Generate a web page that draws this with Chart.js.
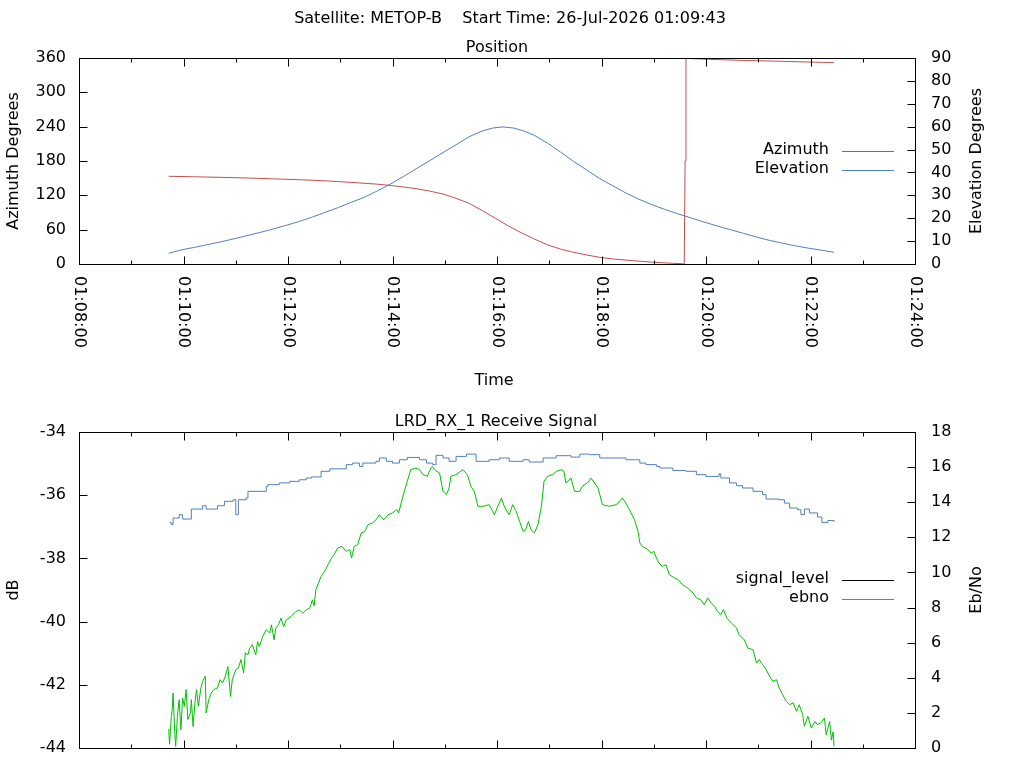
<!DOCTYPE html>
<html>
<head>
<meta charset="utf-8">
<title>METOP-B pass</title>
<script src="https://cdn.jsdelivr.net/npm/chart.js@4.4.1/dist/chart.umd.min.js"></script>
<style>
  html, body { margin: 0; background: #fff; overflow: hidden; }
  canvas { display: block; position: absolute; left: 0; }
  #position { top: 0; }
  #signal { top: 400px; }
</style>
</head>
<body>
<canvas id="position" width="1024" height="400"></canvas>
<canvas id="signal" width="1024" height="420"></canvas>
<script>
const satellite = 'METOP-B';
const startDate = '26-Jul-2026';
const startTime = '01:09:43';
const timeRange = ['01:08:00', '01:24:00'];

// all offsets are seconds after startTime
const azOffsets = [0, 30, 60, 90, 120, 150, 180, 210, 240, 255,
  270, 285, 300, 315, 330, 345, 360, 375, 390, 405,
  420, 435, 450, 465, 480, 495, 510, 525, 540, 555,
  570, 580, 592, 593, 594, 620, 655, 704, 747, 764];
const azimuth = [153.3, 152.4, 151.4, 150.3, 148.8, 147.3, 145.3, 142.6, 139.5, 137.2,
  134.6, 131.5, 127.3, 122.3, 114.8, 106, 93.4, 80, 66.5, 54.5,
  43.5, 33.5, 26, 20.4, 15.8, 11.6, 8.8, 6.8, 5, 3.2,
  2, 1.2, 0.2, 180, 359.3, 357.7, 356, 354.2, 352.5, 351.9];

const elOffsets = [0, 15, 30, 45, 60, 75, 90, 105, 120, 135,
  150, 165, 180, 195, 210, 225, 240, 255, 270, 285,
  300, 315, 330, 345, 360, 372, 384, 396, 408, 420,
  435, 450, 465, 480, 495, 510, 525, 540, 555, 570,
  585, 600, 615, 630, 645, 660, 675, 690, 705, 720,
  735, 750, 764];
const elevation = [4.7, 6.2, 7.3, 8.5, 9.7, 11.0, 12.4, 13.8, 15.3, 16.9,
  18.6, 20.5, 22.6, 24.7, 27.0, 29.2, 32.0, 35.0, 38.3, 41.8,
  45.2, 48.7, 52.1, 55.6, 58.1, 59.4, 59.9, 59.4, 58.1, 56.2,
  52.8, 48.9, 44.8, 41.1, 37.3, 34.2, 31.0, 28.3, 25.9, 23.8,
  21.9, 20.1, 18.3, 16.6, 15.0, 13.4, 11.8, 10.3, 9.1, 7.9,
  6.9, 6.0, 5.1];

const sigOffsets = [0, 1, 3, 4, 5, 7, 8, 10, 12, 14,
  16, 18, 20, 22, 25, 26, 28, 30, 32, 34,
  37, 39, 42, 43, 46, 49, 52, 56, 59, 62,
  65, 68, 71, 73, 77, 80, 83, 86, 88, 91,
  93, 96, 100, 102, 104, 108, 112, 116, 118, 121,
  123, 126, 129, 132, 135, 141, 146, 150, 154, 158,
  162, 165, 167, 169, 172, 175, 179, 183, 187, 190,
  194, 199, 204, 208, 210, 213, 217, 221, 225, 229,
  234, 238, 242, 247, 252, 257, 262, 264, 267, 271,
  274, 278, 284, 288, 292, 297, 301, 303, 305, 311,
  315, 319, 322, 324, 330, 338, 343, 347, 351, 355,
  361, 368, 372, 374, 378, 382, 386, 391, 395, 399,
  403, 407, 410, 413, 416, 420, 424, 428, 431, 435,
  441, 445, 451, 454, 456, 462, 466, 472, 475, 481,
  485, 489, 493, 498, 506, 514, 521, 525, 529, 535,
  539, 541, 544, 550, 554, 557, 560, 563, 567, 571,
  575, 581, 585, 590, 596, 602, 606, 611, 615, 619,
  623, 627, 630, 634, 637, 641, 646, 652, 655, 661,
  665, 671, 675, 678, 682, 686, 690, 694, 698, 701,
  705, 709, 713, 717, 721, 724, 728, 730, 734, 738,
  742, 745, 749, 753, 755, 759, 761, 763, 764];
const signalLevel = [-43.4, -43.88, -43.0, -42.79, -42.26, -43.53, -43.95, -43.0, -42.47, -43.42,
  -42.42, -42.68, -42.15, -43.1, -42.89, -42.47, -43.32, -42.6, -42.15, -42.68,
  -42.1, -41.89, -41.73, -42.89, -42.47, -42.26, -42.15, -42.1, -41.84, -41.94,
  -41.73, -41.42, -42.37, -41.84, -41.52, -41.47, -41.2, -41.63, -40.99, -41.05,
  -40.84, -40.73, -41.05, -40.63, -40.79, -40.47, -40.26, -40.36, -40.1, -40.58,
  -40.21, -40.1, -39.89, -40.16, -39.95, -39.82, -39.68, -39.63, -39.74, -39.63,
  -39.57, -39.31, -39.5, -38.99, -38.78, -38.57, -38.41, -38.2, -37.99, -37.88,
  -37.67, -37.62, -37.78, -37.72, -37.99, -37.62, -37.57, -37.2, -37.15, -36.93,
  -36.88, -36.78, -36.62, -36.78, -36.62, -36.56, -36.46, -36.56, -36.25, -35.83,
  -35.56, -35.19, -35.14, -35.19, -35.35, -35.4, -35.14, -35.09, -35.19, -35.3,
  -35.88, -35.98, -35.77, -35.4, -35.35, -35.19, -35.35, -35.72, -35.88, -36.35,
  -36.35, -36.3, -36.51, -36.62, -36.35, -36.09, -36.4, -36.62, -36.3, -36.51,
  -36.83, -37.15, -37.09, -36.83, -37.09, -37.2, -36.93, -36.35, -35.56, -35.4,
  -35.35, -35.25, -35.19, -35.25, -35.61, -35.46, -35.88, -35.88, -35.72, -35.61,
  -35.46, -35.61, -35.77, -36.3, -36.35, -36.3, -36.09, -36.25, -36.46, -36.78,
  -37.15, -37.51, -37.62, -37.72, -37.83, -37.78, -37.99, -38.15, -38.25, -38.2,
  -38.52, -38.62, -38.67, -38.83, -38.94, -39.09, -39.25, -39.31, -39.47, -39.25,
  -39.41, -39.52, -39.67, -39.78, -39.62, -39.89, -40.04, -40.2, -40.42, -40.57,
  -40.84, -40.89, -41.31, -41.2, -41.36, -41.52, -41.73, -41.89, -41.84, -42.1,
  -42.31, -42.52, -42.63, -42.57, -42.84, -42.63, -42.94, -43.31, -43.0, -43.37,
  -43.16, -43.26, -43.2, -43.05, -43.58, -43.16, -43.75, -43.49, -43.95];

const ebnoOffsets = [1, 3, 5, 12, 16, 26, 39, 43, 56, 64,
  74, 77, 80, 89, 91, 112, 114, 127, 139, 150,
  158, 164, 175, 185, 204, 211, 219, 223, 238, 242,
  250, 257, 265, 274, 288, 296, 303, 307, 315, 322,
  330, 342, 353, 368, 380, 391, 407, 414, 430, 445,
  462, 472, 483, 495, 525, 541, 548, 560, 564, 579,
  594, 606, 617, 632, 634, 644, 652, 659, 671, 682,
  686, 701, 707, 713, 722, 726, 730, 736, 745, 750,
  757, 764];
const ebno = [12.85, 12.72, 13.1, 13.29, 13.04, 13.61, 13.8, 13.61, 13.8, 14.05,
  14.14, 13.29, 14.14, 14.24, 14.62, 14.9, 15.0, 15.1, 15.19, 15.28,
  15.38, 15.44, 15.76, 15.9, 16.14, 16.23, 16.04, 16.23, 16.33, 16.52,
  16.33, 16.23, 16.42, 16.55, 16.42, 16.23, 16.14, 16.67, 16.52, 16.33,
  16.61, 16.74, 16.33, 16.42, 16.52, 16.33, 16.42, 16.29, 16.52, 16.65,
  16.57, 16.74, 16.71, 16.52, 16.42, 16.23, 16.14, 16.04, 15.95, 15.81,
  15.76, 15.57, 15.47, 15.62, 15.38, 15.1, 14.94, 14.81, 14.62, 14.43,
  14.18, 14.14, 13.95, 13.67, 13.57, 13.29, 13.61, 13.39, 13.16, 12.85,
  12.96, 12.87];

const FONT = '16px "DejaVu Sans", sans-serif';
Chart.defaults.font.family = '"DejaVu Sans", sans-serif';
Chart.defaults.font.size = 16;
Chart.defaults.color = '#000';

function toSec(hms) {
    const p = hms.split(':').map(Number);
    return p[0] * 3600 + p[1] * 60 + p[2];
}
function toHms(sec) {
    const pad = n => String(n).padStart(2, '0');
    return pad(Math.floor(sec / 3600)) + ':' + pad(Math.floor(sec / 60) % 60) + ':' + pad(sec % 60);
}
const t0 = toSec(startTime);
function series(offsets, values) {
    return offsets.map((o, i) => ({x: t0 + o, y: values[i]}));
}

// gnuplot look: boxed plot, inward ticks, rotated time labels, key inside
function gnuplotFrame(cfg) {
    return {
        id: 'gnuplotFrame',
        afterDraw(chart) {
            const ctx = chart.ctx;
            const a = chart.chartArea;
            const xs = chart.scales.x, yl = chart.scales.y, yr = chart.scales.y1;
            const L = Math.round(a.left) + 0.5, R = Math.round(a.right) + 0.5;
            const T = Math.round(a.top) + 0.5, B = Math.round(a.bottom) + 0.5;
            ctx.save();
            ctx.strokeStyle = '#000';
            ctx.lineWidth = 1;
            ctx.beginPath();
            for (let v = xs.min; v <= xs.max; v += 60) {
                const px = Math.round(xs.getPixelForValue(v)) + 0.5;
                const len = (v - xs.min) % 120 === 0 ? 8 : 4;
                ctx.moveTo(px, B); ctx.lineTo(px, B - len);
                ctx.moveTo(px, T); ctx.lineTo(px, T + len);
            }
            yl.ticks.forEach(t => {
                const py = Math.round(yl.getPixelForValue(t.value)) + 0.5;
                ctx.moveTo(L, py); ctx.lineTo(L + 8, py);
            });
            yr.ticks.forEach(t => {
                const py = Math.round(yr.getPixelForValue(t.value)) + 0.5;
                ctx.moveTo(R, py); ctx.lineTo(R - 8, py);
            });
            ctx.rect(L, T, R - L, B - T);
            ctx.stroke();

            ctx.fillStyle = '#000';
            ctx.font = FONT;
            ctx.textAlign = 'center';
            ctx.textBaseline = 'alphabetic';
            cfg.titles.forEach(t => ctx.fillText(t.text, t.x, t.y));

            ctx.textBaseline = 'middle';
            const midY = (a.top + a.bottom) / 2;
            [[cfg.yTitle, 14], [cfg.y1Title, 977]].forEach(([txt, x]) => {
                ctx.save();
                ctx.translate(x, midY);
                ctx.rotate(-Math.PI / 2);
                ctx.fillText(txt, 0, 0);
                ctx.restore();
            });

            if (cfg.timeLabels) {
                ctx.textAlign = 'left';
                for (let v = xs.min; v <= xs.max; v += 120) {
                    ctx.save();
                    ctx.translate(xs.getPixelForValue(v), a.bottom + 12);
                    ctx.rotate(Math.PI / 2);
                    ctx.fillText(toHms(v), 0, 0);
                    ctx.restore();
                }
                ctx.textAlign = 'center';
                ctx.textBaseline = 'alphabetic';
                ctx.fillText(cfg.xTitle, (a.left + a.right) / 2 - 3, a.bottom + 121);
            }

            ctx.textBaseline = 'middle';
            chart.data.datasets.forEach((ds, i) => {
                const y = cfg.keyY + i * 19;
                ctx.textAlign = 'right';
                ctx.fillStyle = '#000';
                ctx.fillText(ds.label, a.right - 86, y - 1);
                ctx.strokeStyle = ds.keyColor || ds.borderColor;
                ctx.beginPath();
                ctx.moveTo(a.right - 73, Math.round(y) + 0.5);
                ctx.lineTo(a.right - 21, Math.round(y) + 0.5);
                ctx.stroke();
            });
            ctx.restore();
        }
    };
}

function yAxis(position, min, max, step, width, pad) {
    return {
        type: 'linear',
        position: position,
        min: min,
        max: max,
        ticks: {stepSize: step, padding: pad, color: '#000', font: {size: 16}},
        grid: {display: false, drawTicks: false},
        border: {display: false},
        afterFit: scale => { scale.width = width; }
    };
}

function lineSet(label, offsets, values, color, axis, extra) {
    return Object.assign({
        label: label,
        data: series(offsets, values),
        borderColor: color,
        borderWidth: 1,
        pointRadius: 0,
        tension: 0,
        fill: false,
        yAxisID: axis
    }, extra || {});
}

function makeChart(id, datasets, yLeft, yRight, padding, frame) {
    return new Chart(document.getElementById(id), {
        type: 'line',
        data: {datasets: datasets},
        options: {
            responsive: false,
            animation: false,
            events: [],
            layout: {padding: padding},
            scales: {
                x: {type: 'linear', display: false, min: toSec(timeRange[0]), max: toSec(timeRange[1])},
                y: yLeft,
                y1: yRight
            },
            plugins: {legend: {display: false}, tooltip: {enabled: false}}
        },
        plugins: [gnuplotFrame(frame)]
    });
}

makeChart('position', [
    lineSet('Azimuth', azOffsets, azimuth, '#c0504d', 'y'),
    lineSet('Elevation', elOffsets, elevation, '#4f81bd', 'y1')
], yAxis('left', 0, 360, 60, 79, 13), yAxis('right', 0, 90, 10, 109, 16),
{top: 58, bottom: 136, left: 0, right: 0}, {
    titles: [
        {text: 'Satellite: ' + satellite + '    Start Time: ' + startDate + ' ' + startTime, x: 510, y: 23},
        {text: 'Position', x: 497, y: 52}
    ],
    yTitle: 'Azimuth Degrees',
    y1Title: 'Elevation Degrees',
    xTitle: 'Time',
    timeLabels: true,
    keyY: 151
});

makeChart('signal', [
    lineSet('signal_level', sigOffsets, signalLevel, '#00c000', 'y', {keyColor: '#000'}),
    lineSet('ebno', ebnoOffsets, ebno, '#4f81bd', 'y1', {stepped: 'before'})
], yAxis('left', -44, -34, 2, 79, 13), yAxis('right', 0, 18, 2, 109, 16),
{top: 32, bottom: 72, left: 0, right: 0}, {
    titles: [
        {text: 'LRD_RX_1 Receive Signal', x: 496, y: 26}
    ],
    yTitle: 'dB',
    y1Title: 'Eb/No',
    timeLabels: false,
    keyY: 180
});
</script>
</body>
</html>
